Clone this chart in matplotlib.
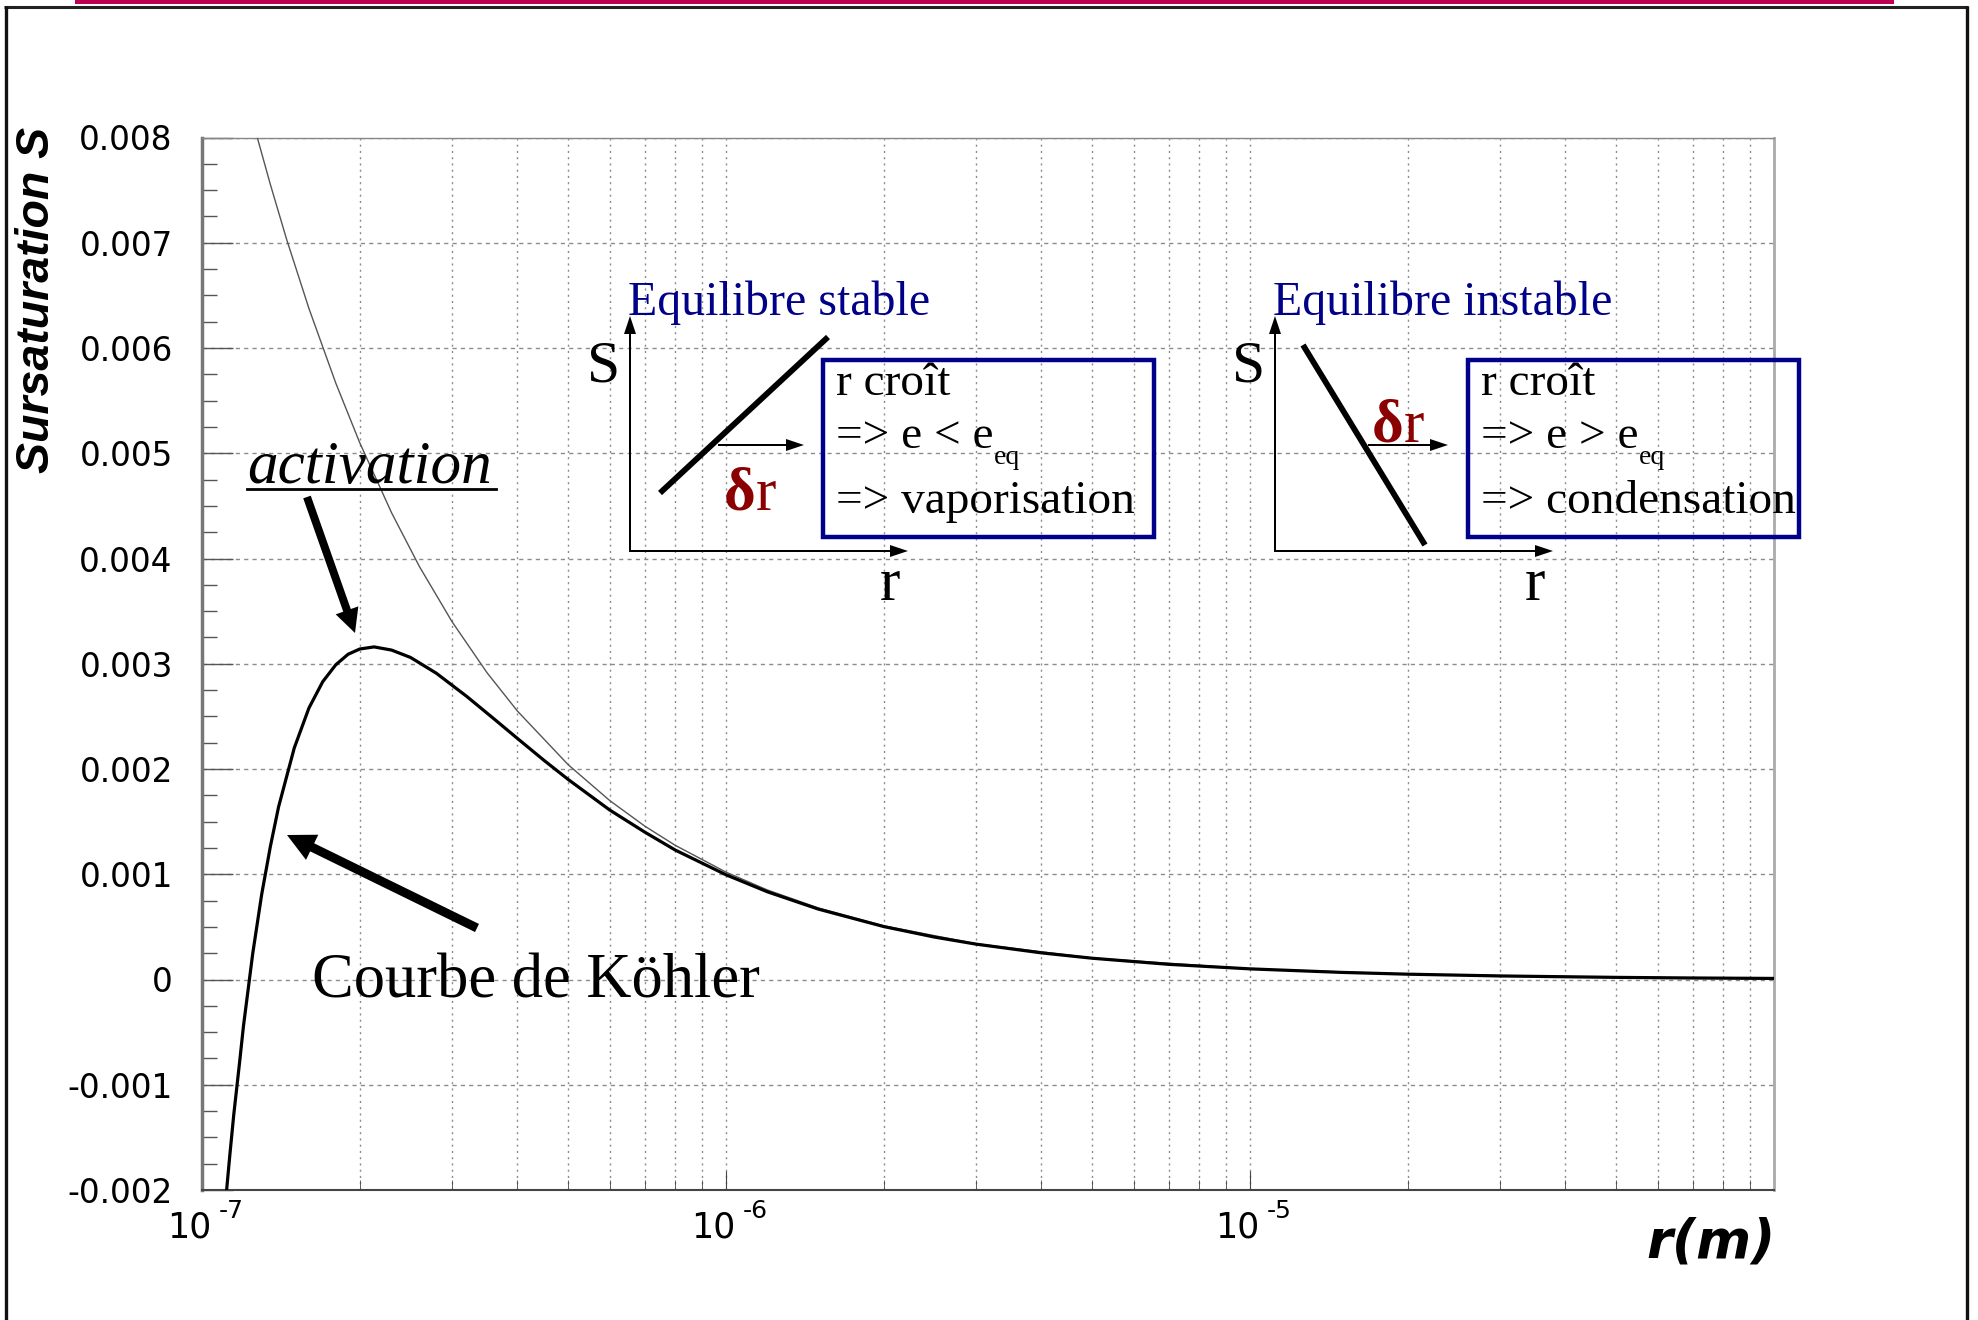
import numpy as np
import matplotlib.pyplot as plt
from matplotlib.patches import Rectangle, FancyArrow
from matplotlib.ticker import MultipleLocator, LogLocator, NullFormatter

# Köhler curve: droplet radius (m) vs supersaturation
r_kohler = [1.11e-7, 1.13e-7, 1.15e-7, 1.18e-7, 1.2e-7, 1.25e-7, 1.3e-7, 1.35e-7, 1.4e-7,
            1.5e-7, 1.6e-7, 1.7e-7, 1.8e-7, 1.9e-7, 2.0e-7, 2.13e-7, 2.3e-7, 2.5e-7,
            2.8e-7, 3.2e-7, 3.6e-7, 4.0e-7, 4.5e-7, 5e-7, 6e-7, 7e-7, 8e-7,
            1e-6, 1.2e-6, 1.5e-6, 2e-6, 2.5e-6, 3e-6, 4e-6, 5e-6, 7e-6,
            1e-5, 1.5e-5, 2e-5, 3e-5, 5e-5, 7e-5, 1e-4]
s_kohler = [-0.00209, -0.00167, -0.00128, -0.00078, -0.00044, 0.00025, 0.00081, 0.00126, 0.00164,
            0.00220, 0.00258, 0.00283, 0.00299, 0.00309, 0.00314, 0.00316, 0.00313, 0.00306,
            0.00291, 0.00269, 0.00248, 0.00229, 0.00208, 0.00190, 0.00161, 0.00140, 0.00123,
            0.000995, 0.000833, 0.000669, 0.000503, 0.000403, 0.000336, 0.000253, 0.000202, 0.000144,
            0.000101, 0.0000673, 0.0000505, 0.0000337, 0.0000202, 0.0000144, 0.0000101]

# curvature term alone (thin grey curve)
r_kelvin = [1.25e-7, 1.275e-7, 1.35e-7, 1.45e-7, 1.6e-7, 1.8e-7, 2.0e-7, 2.3e-7, 2.6e-7,
            3.0e-7, 3.5e-7, 4e-7, 5e-7, 6e-7, 7e-7, 8e-7, 1e-6, 1.2e-6, 1.5e-6,
            2e-6, 3e-6, 5e-6, 1e-5, 2e-5, 5e-5, 1e-4]
s_kelvin = [0.00816, 0.0080, 0.007556, 0.007034, 0.006375, 0.005667, 0.0051, 0.004435, 0.003923,
            0.0034, 0.002914, 0.00255, 0.00204, 0.0017, 0.001457, 0.001275, 0.00102, 0.00085, 0.00068,
            0.00051, 0.00034, 0.000204, 0.000102, 0.000051, 0.0000204, 0.0000102]

y_ticks = [-0.002, -0.001, 0, 0.001, 0.002, 0.003, 0.004, 0.005, 0.006, 0.007, 0.008]
y_tick_labels = ['-0.002', '-0.001', '0', '0.001', '0.002', '0.003', '0.004',
                 '0.005', '0.006', '0.007', '0.008']
x_decades = [1e-7, 1e-6, 1e-5]
x_exponents = ['-7', '-6', '-5']

W, H = 1978, 1320
fig = plt.figure(figsize=(W / 100, H / 100), dpi=100)
fig.patch.set_facecolor('white')

ax = fig.add_axes([202 / W, 1 - 1190 / H, (1774 - 202) / W, (1190 - 137.5) / H])
ax.set_xscale('log')
ax.set_xlim(1e-7, 1e-4)
ax.set_ylim(-0.002, 0.008)

ax.plot(r_kelvin, s_kelvin, color='#555555', lw=1.0, zorder=3)
ax.plot(r_kohler, s_kohler, color='black', lw=2.3, zorder=4)

ax.set_yticks(y_ticks)
ax.set_yticklabels(y_tick_labels, family='DejaVu Sans', fontsize=23.5)
ax.yaxis.set_minor_locator(MultipleLocator(0.00025))
ax.tick_params(axis='y', which='major', direction='in', length=22, width=1, color='#555555', pad=21)
ax.tick_params(axis='y', which='minor', direction='in', length=11, width=1, color='#555555')
ax.xaxis.set_major_locator(LogLocator(base=10))
ax.xaxis.set_minor_locator(LogLocator(base=10, subs=np.arange(2, 10)))
ax.xaxis.set_minor_formatter(NullFormatter())
ax.tick_params(axis='x', which='both', direction='in', labelbottom=False, color='#444444')
ax.tick_params(axis='x', which='major', length=14)
ax.tick_params(axis='x', which='minor', length=7)

ax.xaxis.grid(True, which='both', color='#8c8c8c', lw=1, linestyle=(0, (1.5, 3)))
ax.yaxis.grid(True, which='major', color='#8c8c8c', lw=1, linestyle=(0, (3, 3)))
ax.set_axisbelow(True)

ax.spines['left'].set_color('#777777')
ax.spines['left'].set_linewidth(2.5)
ax.spines['bottom'].set_color('#444444')
ax.spines['bottom'].set_linewidth(1.5)
ax.spines['top'].set_color('#888888')
ax.spines['top'].set_linewidth(1)
ax.spines['right'].set_color('#aaaaaa')
ax.spines['right'].set_linewidth(2)

# decade labels written as "10" with a detached exponent
for r, e in zip(x_decades, x_exponents):
    ax.annotate('10', xy=(r, 0), xycoords=('data', 'axes fraction'), xytext=(7, -34),
                textcoords='offset points', ha='right', va='baseline',
                fontsize=25, family='DejaVu Sans', annotation_clip=False)
    ax.annotate(e, xy=(r, 0), xycoords=('data', 'axes fraction'), xytext=(12, -20),
                textcoords='offset points', ha='left', va='baseline',
                fontsize=18, family='DejaVu Sans', annotation_clip=False)

# overlay in pixel units for the slide decorations
ov = fig.add_axes([0, 0, 1, 1], zorder=5)
ov.set_xlim(0, W)
ov.set_ylim(H, 0)
ov.axis('off')

# slide frame and header band
ov.add_patch(Rectangle((75, 0), 1819, 3.5, color='#be0050', lw=0))
ov.plot([4, 1968], [6.5, 6.5], color='#222222', lw=2.2, solid_capstyle='butt')
ov.plot([6, 6], [6, H], color='#111111', lw=2.4, solid_capstyle='butt')
ov.plot([1967, 1967], [6, H], color='#111111', lw=2.4, solid_capstyle='butt')

ov.text(37, 300, 'Sursaturation S', rotation=90, ha='center', va='center',
        fontsize=33.5, fontweight='bold', fontstyle='italic', family='Liberation Sans')
ov.text(1776, 1257, 'r(m)', ha='right', va='baseline', fontsize=38,
        fontweight='bold', fontstyle='italic', family='DejaVu Sans')

serif = 'Liberation Serif'
navy = '#000088'
dark_red = '#8b0000'

ov.text(247, 483, 'activation', ha='left', va='baseline', fontsize=44,
        fontstyle='italic', family=serif)
ov.plot([247, 496], [489, 489], color='black', lw=2)
ov.add_patch(FancyArrow(307, 497, 355 - 307, 633 - 497, width=8, head_width=24,
                        head_length=24, length_includes_head=True, color='black', lw=0))

ov.text(312, 997, 'Courbe de Köhler', ha='left', va='baseline', fontsize=45, family=serif)
ov.add_patch(FancyArrow(477, 928, 287 - 477, 835 - 928, width=9, head_width=28,
                        head_length=28, length_includes_head=True, color='black', lw=0))


def small_arrow(x0, y0, x1, y1):
    ov.add_patch(FancyArrow(x0, y0, x1 - x0, y1 - y0, width=2, head_width=12,
                            head_length=18, length_includes_head=True, color='black', lw=0))


def inset(x0, title, seg, arrow, dr_xy, relation, outcome):
    ov.text(x0 - 2, 315, title, ha='left', va='baseline', fontsize=34.5, color=navy, family=serif)
    small_arrow(x0, 552, x0, 316)
    small_arrow(x0 - 1, 551, x0 + 278, 551)
    ov.text(x0 - 10, 382, 'S', ha='right', va='baseline', fontsize=43, family=serif)
    ov.text(x0 + 260, 600, 'r', ha='center', va='baseline', fontsize=44, family=serif)
    ov.plot(seg[0], seg[1], color='black', lw=4.2, solid_capstyle='butt')
    small_arrow(arrow[0], 445, arrow[1], 445)
    ov.text(dr_xy[0], dr_xy[1], 'δ', ha='left', va='baseline', fontsize=44,
            fontweight='bold', color=dark_red, family=serif)
    ov.text(dr_xy[0] + 32, dr_xy[1], 'r', ha='left', va='baseline', fontsize=44,
            color=dark_red, family=serif)
    ov.add_patch(Rectangle((x0 + 193, 360), 331, 177, fill=False, edgecolor='#00008b', lw=3.2))
    ov.text(x0 + 206, 395, 'r croît', ha='left', va='baseline', fontsize=34, family=serif)
    rel = ov.text(x0 + 206, 448, relation, ha='left', va='baseline', fontsize=34, family=serif)
    ov.annotate('eq', xy=(1, 0), xycoords=rel, xytext=(0.5, -4), textcoords='offset points',
                ha='left', va='baseline', fontsize=20, family=serif)
    ov.text(x0 + 206, 513, outcome, ha='left', va='baseline', fontsize=34, family=serif)


inset(630, 'Equilibre stable', ([660, 828], [493, 337]), (718, 804), (724, 510),
      '=> e < e', '=> vaporisation')
inset(1275, 'Equilibre instable', ([1303, 1425], [345, 545]), (1368, 1448), (1372, 442),
      '=> e > e', '=> condensation')

fig.savefig('out.png', dpi=100, facecolor='white')
